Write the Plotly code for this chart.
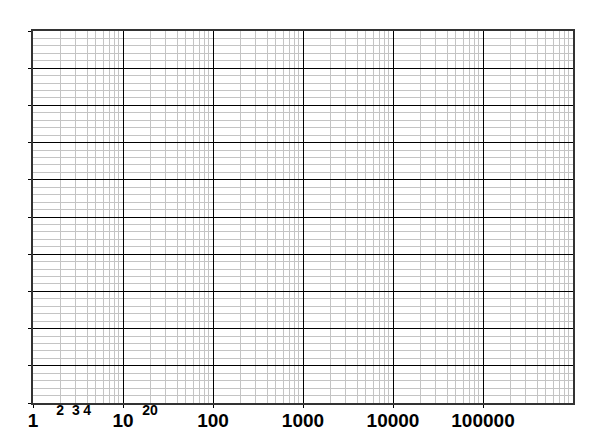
import plotly.graph_objects as go

# decades along the log x axis (big labels) and in-between labels (small ones)
decade_vals = [1, 10, 100, 1000, 10000, 100000]
decade_text = ["1", "10", "100", "1000", "10000", "100000"]
small_vals = [2, 3, 4, 20]
small_text = ["2", "3", "4", "20"]

# linear y axis: 0..10 in major steps of 1, minor steps of 0.2
y_range = [0, 10]
y_major = 1
y_minor = 0.2

font_fam = "Liberation Sans, Arial, sans-serif"
grey = "#c4c4c4"

fig = go.Figure()
# invisible trace so the axes exist
fig.add_trace(go.Scatter(x=[1, 1000000], y=y_range, mode="markers",
                         marker=dict(opacity=0), hoverinfo="skip",
                         showlegend=False))
fig.add_trace(go.Scatter(x=[1, 1000000], y=y_range, mode="markers",
                         marker=dict(opacity=0), hoverinfo="skip",
                         showlegend=False, xaxis="x2"))

# page body adds 8px margin, so the figure is a bit smaller than the window
fig.update_layout(
    width=594, height=439,
    margin=dict(l=25, r=29, t=23, b=44),
    paper_bgcolor="white", plot_bgcolor="white",
    showlegend=False,
    xaxis=dict(
        type="log", range=[0, 6], automargin=False,
        tickvals=decade_vals, ticktext=decade_text,
        tickfont=dict(family=font_fam, size=19, color="black", weight="bold"),
        showgrid=True, gridcolor="black", gridwidth=1,
        ticks="outside", ticklen=3, tickcolor="black",
        ticklabelstandoff=-4,
        showline=True, mirror=True, linecolor="#333", linewidth=1.5,
        minor=dict(dtick="D1", showgrid=True, gridcolor=grey, gridwidth=1.4),
        zeroline=False,
    ),
    xaxis2=dict(
        type="log", range=[0, 6], overlaying="x", side="bottom", matches="x",
        anchor="y", automargin=False,
        tickvals=small_vals, ticktext=small_text,
        tickfont=dict(family=font_fam, size=14, color="black", weight="bold"),
        showgrid=False, ticks="", ticklabelstandoff=-3,
        zeroline=False,
    ),
    yaxis=dict(
        range=y_range, dtick=y_major, tick0=0, automargin=False,
        showticklabels=False,
        showgrid=True, gridcolor="black", gridwidth=1,
        ticks="outside", ticklen=3, tickcolor="black",
        showline=True, mirror=True, linecolor="#333", linewidth=1.5,
        minor=dict(dtick=y_minor, showgrid=True, gridcolor=grey, gridwidth=1.4),
        zeroline=False,
    ),
)

fig.write_html("out.html")
